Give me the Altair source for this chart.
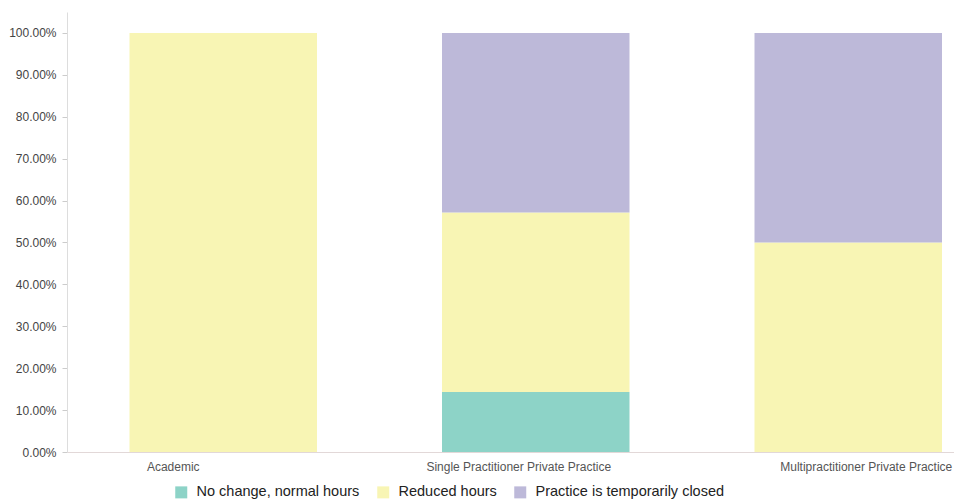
import altair as alt
import pandas as pd

categories = ["Academic", "Single Practitioner Private Practice", "Multipractitioner Private Practice"]
series = ["No change, normal hours", "Reduced hours", "Practice is temporarily closed"]
no_change = [0.0, 0.1429, 0.0]
reduced = [1.0, 0.4286, 0.5]
closed = [0.0, 0.4285, 0.5]
y_ticks = [0.0, 0.1, 0.2, 0.3, 0.4, 0.5, 0.6, 0.7, 0.8, 0.9, 1.0]
colors = ["#8dd3c7", "#f8f5b4", "#bdb9d9"]

rows = []
for i, cat in enumerate(categories):
    for k, (s, vals) in enumerate(zip(series, [no_change, reduced, closed])):
        rows.append({"category": cat, "series": s, "value": vals[i], "order": k})
df = pd.DataFrame(rows)

label_offset = {
    "condition": [
        {"test": "datum.value === 'Academic'", "value": -50},
        {"test": "datum.value === 'Single Practitioner Private Practice'", "value": -17},
    ],
    "value": 18,
}

chart = alt.Chart(df).mark_bar().encode(
    x=alt.X("category:N", sort=categories, title=None,
            scale=alt.Scale(range=[0, 937.5], paddingInner=0.4, paddingOuter=0.2),
            axis=alt.Axis(labelAngle=0, ticks=False, labelPadding=9, labelFontSize=12,
                          labelColor="#555555", labelFont="Liberation Sans",
                          domainColor="#e2d8d8", domainWidth=1, labelLimit=0,
                          labelOffset=label_offset)),
    y=alt.Y("value:Q", stack="zero", title=None,
            scale=alt.Scale(domain=[0, 1.05], nice=False),
            axis=alt.Axis(values=y_ticks, format=".2%", grid=False, tickSize=5,
                          tickColor="#cccccc", domainColor="#dddddd", labelPadding=6,
                          labelFontSize=12, labelColor="#444444", labelFont="Liberation Sans")),
    color=alt.Color("series:N", sort=series,
                    scale=alt.Scale(domain=series, range=colors),
                    legend=alt.Legend(title=None, orient="none", direction="horizontal",
                                      legendX=107, legendY=473, symbolType="square",
                                      symbolSize=144, symbolStrokeWidth=0,
                                      labelFontSize=14.5, labelColor="#222222",
                                      labelFont="Liberation Sans", columnPadding=16,
                                      labelOffset=8, labelLimit=0)),
    order=alt.Order("order:Q"),
).properties(
    width=887, height=440,
    autosize=alt.AutoSizeParams(type="none"),
    padding={"left": 67, "top": 12, "right": 0, "bottom": 47},
).configure_view(stroke=None)

chart.save("out.html", embed_options={"renderer": "svg", "actions": False})
